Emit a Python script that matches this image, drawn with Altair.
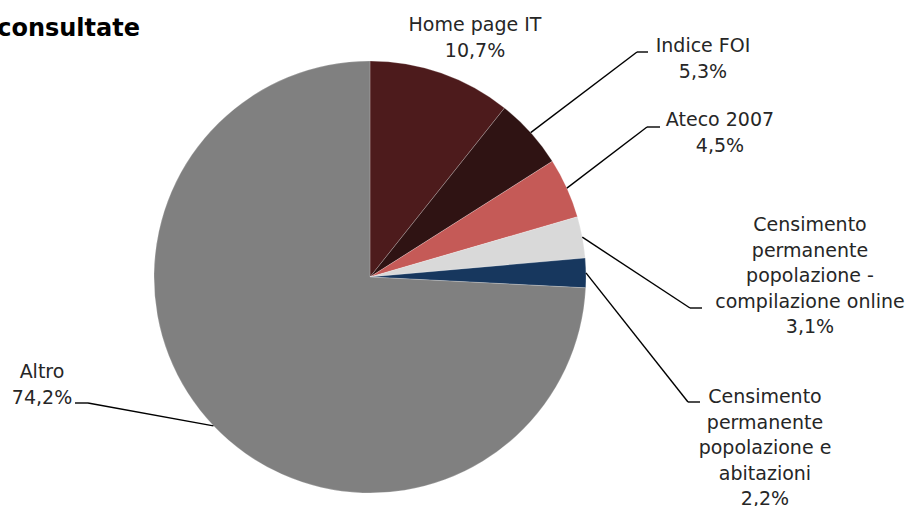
import altair as alt
import pandas as pd

# ---- data ----
categories = [
    "Home page IT",
    "Indice FOI",
    "Ateco 2007",
    "Censimento permanente popolazione - compilazione online",
    "Censimento permanente popolazione e abitazioni",
    "Altro",
]
values = [10.7, 5.3, 4.5, 3.1, 2.2, 74.2]
value_labels = ["10,7%", "5,3%", "4,5%", "3,1%", "2,2%", "74,2%"]
label_lines = [
    ["Home page IT"],
    ["Indice FOI"],
    ["Ateco 2007"],
    ["Censimento", "permanente", "popolazione -", "compilazione online"],
    ["Censimento", "permanente", "popolazione e", "abitazioni"],
    ["Altro"],
]
colors = ["#4D1B1C", "#2F1313", "#C55A57", "#D9D9D9", "#17375E", "#808080"]
title_text = "consultate"

# ---- layout (pixels) ----
W, H = 918, 506
CX, CY, R = 370, 277, 216
LH = 25.5
FONT = "DejaVu Sans"
label_cx = [475, 703, 720, 810, 765, 42]
label_top = [25, 46, 120, 225, 397, 372]
elbow_x = [None, 637, 647, 690, 688, 88]
elbow_y = [None, 52, 127, 308, 402, 403]
end_x = [None, 648, 660, 702, 700, 75]

df = pd.DataFrame({
    "category": categories,
    "value": values,
    "order": list(range(len(categories))),
})

# text rows, one per line of each label
rows = []
for i, lines in enumerate(label_lines):
    for j, t in enumerate(lines + [value_labels[i]]):
        rows.append({"t": t, "x": label_cx[i], "y": label_top[i] + j * LH})
text_df = pd.DataFrame(rows)

lead_df = pd.DataFrame({
    "category": categories,
    "value": values,
    "order": list(range(len(categories))),
    "ex2": elbow_x,
    "ey2": elbow_y,
    "endx": end_x,
})

base = alt.Chart(df)

pie = base.mark_arc(outerRadius=R, stroke="#ffffff", strokeWidth=0.6, strokeOpacity=0.35).encode(
    theta=alt.Theta("value:Q", stack=True),
    color=alt.Color("category:N", scale=alt.Scale(domain=categories, range=colors), legend=None),
    order=alt.Order("order:Q"),
    x=alt.value(CX),
    y=alt.value(CY),
)

lead_base = alt.Chart(lead_df).transform_joinaggregate(
    total="sum(value)"
).transform_window(
    cum="sum(value)", sort=[alt.SortField("order")]
).transform_calculate(
    mid="(datum.cum - datum.value/2) / datum.total * 2 * PI",
).transform_calculate(
    ex=f"{CX} + {R} * sin(datum.mid)",
    ey=f"{CY} - {R} * cos(datum.mid)",
).transform_filter("isValid(datum.ex2)")

seg1 = lead_base.mark_rule(color="#000000", strokeWidth=1.4).encode(
    x=alt.X("ex:Q", scale=None),
    y=alt.Y("ey:Q", scale=None),
    x2="ex2:Q",
    y2="ey2:Q",
)
seg2 = lead_base.mark_rule(color="#000000", strokeWidth=1.4).encode(
    x=alt.X("ex2:Q", scale=None),
    y=alt.Y("ey2:Q", scale=None),
    x2="endx:Q",
    y2="ey2:Q",
)

labels = alt.Chart(text_df).mark_text(
    font=FONT, fontSize=19, color="#262626", align="center", baseline="middle"
).encode(
    x=alt.X("x:Q", scale=None),
    y=alt.Y("y:Q", scale=None),
    text="t:N",
)

title = alt.Chart(alt.Data(values=[{}])).mark_text(
    font=FONT, fontSize=24, fontWeight="bold", color="#000000", align="right", baseline="middle"
).encode(
    x=alt.value(140),
    y=alt.value(29),
    text=alt.value(title_text),
)

chart = alt.layer(pie, seg1, seg2, labels, title).properties(
    width=W, height=H, padding=0, autosize="none"
).configure_view(stroke=None)

chart.save("out.html", embed_options={"renderer": "svg", "actions": False})
